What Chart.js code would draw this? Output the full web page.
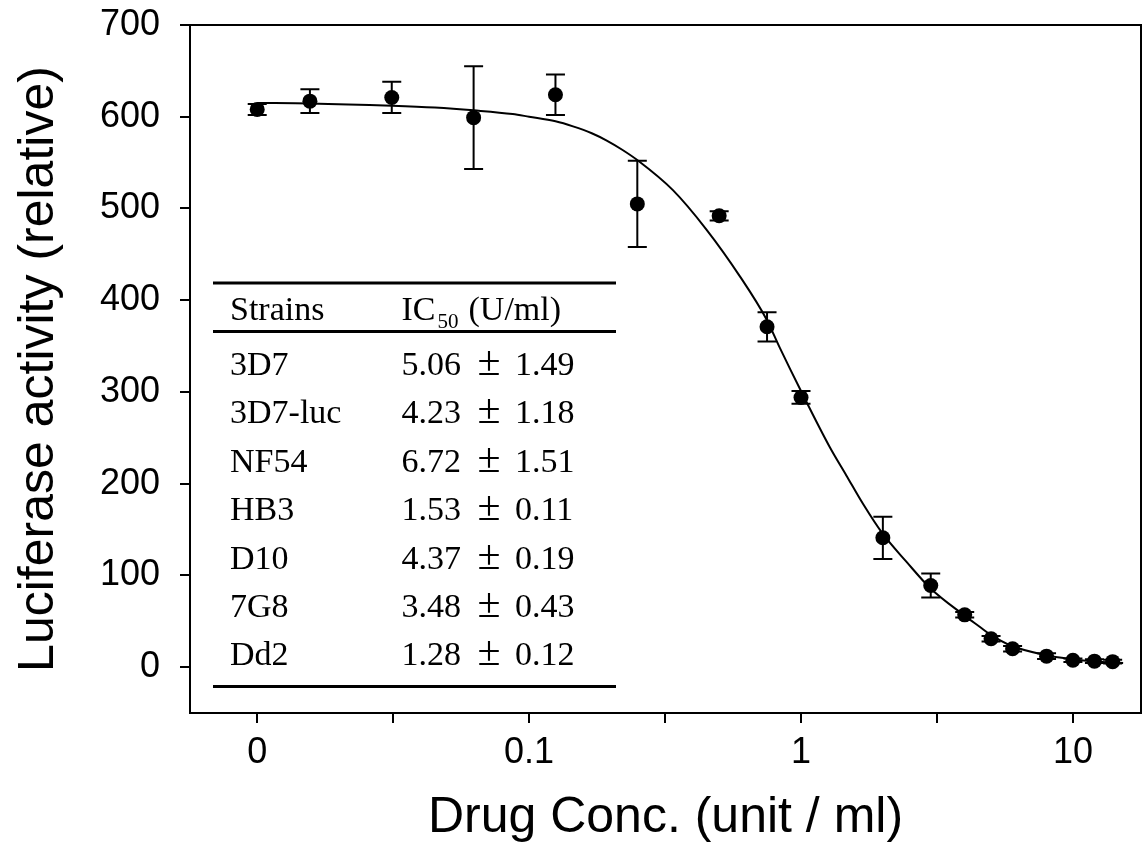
<!DOCTYPE html>
<html>
<head>
<meta charset="utf-8">
<script src="https://cdn.jsdelivr.net/npm/chart.js@4.4.1/dist/chart.umd.min.js"></script>
<style>
  html, body { margin: 0; padding: 0; background: #fff; }
  #wrap { width: 1142px; height: 846px; }
</style>
</head>
<body>
<div id="wrap"><canvas id="grafico"></canvas></div>
<script>
// drug concentration (unit/ml), 0 is drawn where the "0" label sits on the log axis
const conc = [0, 0.015625, 0.03125, 0.0625, 0.125, 0.25, 0.5, 0.75, 1, 2, 3, 4, 5, 6, 8, 10, 12, 14];
const activity = [608, 617, 621, 599, 624, 505, 492, 371, 294, 141, 89, 57, 31, 20, 12, 7.5, 6.5, 6];
const activityErr = [6, 13, 17, 56, 22, 47, 5, 16, 7, 23, 13, 3, 3, 3, 3, 2, 2, 2];

// fitted dose-response curve
const fitX = [0.01, 0.0156, 0.0313, 0.045, 0.0625, 0.087, 0.1, 0.125, 0.145, 0.17, 0.193, 0.22, 0.252, 0.338, 0.449,
              0.596, 0.747, 0.836, 1, 1.275, 1.468, 1.69, 1.99, 2.44, 2.99, 3.96, 4.54, 4.94, 5.97, 7.98, 9.95, 11.9, 15.3];
const fitY = [615, 614.5, 612, 610, 607, 603, 600, 595, 589.5, 582, 574, 564, 552, 520, 477,
              426, 379, 348, 301, 240, 209, 178, 146, 115, 86, 57, 44, 36, 23, 13, 8.7, 6.2, 4.4];

const zeroAt = 0.01;
const xMajorTicks = [0.01, 0.1, 1, 10];
const xTickLabels = ['0', '0.1', '1', '10'];
const xMinorTicks = [0.0316, 0.316, 3.16];
const yTicks = [0, 100, 200, 300, 400, 500, 600, 700];

// IC50 table
const strains = ['3D7', '3D7-luc', 'NF54', 'HB3', 'D10', '7G8', 'Dd2'];
const ic50 = ['5.06', '4.23', '6.72', '1.53', '4.37', '3.48', '1.28'];
const ic50Sd = ['1.49', '1.18', '1.51', '0.11', '0.19', '0.43', '0.12'];

Chart.defaults.font.family = "'Liberation Sans', Arial, sans-serif";
Chart.defaults.color = '#000';

const errorBars = {
    id: 'errorBars',
    beforeDatasetsDraw(chart) {
        const ctx = chart.ctx;
        const xs = chart.scales.x, ys = chart.scales.y;
        ctx.save();
        ctx.strokeStyle = '#000';
        ctx.lineWidth = 2;
        conc.forEach((c, i) => {
            const px = xs.getPixelForValue(c === 0 ? zeroAt : c);
            const top = ys.getPixelForValue(activity[i] + activityErr[i]);
            const bot = ys.getPixelForValue(activity[i] - activityErr[i]);
            ctx.beginPath();
            ctx.moveTo(px, top); ctx.lineTo(px, bot);
            ctx.moveTo(px - 9.5, top); ctx.lineTo(px + 9.5, top);
            ctx.moveTo(px - 9.5, bot); ctx.lineTo(px + 9.5, bot);
            ctx.stroke();
        });
        ctx.restore();
    }
};

const frame = {
    id: 'frame',
    afterDraw(chart) {
        const {ctx, chartArea: a} = chart;
        ctx.save();
        ctx.strokeStyle = '#000';
        ctx.lineWidth = 2;
        ctx.strokeRect(a.left, a.top, a.right - a.left, a.bottom - a.top);
        ctx.restore();
    }
};

const ic50Table = {
    id: 'ic50Table',
    afterDraw(chart) {
        const {ctx, chartArea: a} = chart;
        const l = a.left, t = a.top;
        const serif = "'Liberation Serif', 'Times New Roman', serif";
        ctx.save();
        ctx.fillStyle = '#000';
        ctx.strokeStyle = '#000';
        ctx.lineWidth = 3;
        [258, 306.5, 661.5].forEach(dy => {
            ctx.beginPath();
            ctx.moveTo(l + 23, t + dy);
            ctx.lineTo(l + 426, t + dy);
            ctx.stroke();
        });
        ctx.textBaseline = 'alphabetic';
        ctx.textAlign = 'left';
        ctx.font = '34px ' + serif;
        ctx.fillText('Strains', l + 40, t + 295);
        let x = l + 211.5;
        ctx.fillText('IC', x, t + 295);
        x += ctx.measureText('IC').width + 2;
        ctx.font = '21px ' + serif;
        ctx.fillText('50', x, t + 303);
        x += ctx.measureText('50').width + 10;
        ctx.font = '34px ' + serif;
        ctx.fillText('(U/ml)', x, t + 295);

        strains.forEach((s, i) => {
            const by = t + 350 + i * 48.4;
            ctx.font = '34px ' + serif;
            ctx.fillText(s, l + 40, by);
            ctx.fillText(ic50[i], l + 211.5, by);
            ctx.fillText(ic50Sd[i], l + 325, by);
            ctx.font = '42px ' + serif;
            ctx.textAlign = 'center';
            ctx.fillText('\u00B1', l + 299, by);
            ctx.textAlign = 'left';
        });
        ctx.restore();
    }
};

const ctx = document.getElementById('grafico').getContext('2d');
new Chart(ctx, {
    type: 'scatter',
    data: {
        datasets: [{
            data: conc.map((c, i) => ({x: c === 0 ? zeroAt : c, y: activity[i]})),
            backgroundColor: '#000',
            borderColor: '#000',
            pointRadius: 7.5,
            pointBorderWidth: 0,
            showLine: false
        }, {
            data: fitX.map((x, i) => ({x: x, y: fitY[i]})),
            borderColor: '#000',
            borderWidth: 2,
            pointRadius: 0,
            showLine: true,
            fill: false,
            cubicInterpolationMode: 'monotone'
        }]
    },
    options: {
        responsive: true,
        maintainAspectRatio: false,
        animation: false,
        layout: { autoPadding: false, padding: { top: 25, right: 1, left: 0, bottom: 0 } },
        plugins: {
            legend: { display: false },
            tooltip: { enabled: false }
        },
        scales: {
            x: {
                type: 'logarithmic',
                min: 0.00566,
                max: 17.8,
                afterBuildTicks: s => {
                    s.ticks = xMajorTicks.concat(xMinorTicks).sort((a, b) => a - b).map(v => ({value: v}));
                },
                afterFit: s => {
                    s.height = 133;
                    s.paddingLeft = 0;
                    s.paddingRight = 0;
                },
                ticks: {
                    autoSkip: false,
                    maxRotation: 0,
                    padding: 8,
                    font: { size: 36 },
                    callback: v => {
                        const k = xMajorTicks.indexOf(v);
                        return k >= 0 ? xTickLabels[k] : '';
                    }
                },
                grid: { drawOnChartArea: false, tickLength: 10, color: '#000', lineWidth: 2 },
                border: { color: '#000', width: 2 },
                title: {
                    display: true,
                    text: 'Drug Conc. (unit / ml)',
                    font: { size: 50, lineHeight: 1 },
                    padding: { top: 0, bottom: 3 }
                }
            },
            y: {
                min: -50,
                max: 700,
                afterBuildTicks: s => { s.ticks = yTicks.map(v => ({value: v})); },
                afterFit: s => {
                    s.width = 190;
                    s.paddingTop = 0;
                    s.paddingBottom = 0;
                },
                ticks: { padding: 20, font: { size: 36 } },
                grid: { drawOnChartArea: false, tickLength: 10, color: '#000', lineWidth: 2 },
                border: { color: '#000', width: 2 },
                title: {
                    display: true,
                    text: 'Luciferase activity (relative)',
                    font: { size: 50, lineHeight: 1 },
                    padding: { top: 14, bottom: 0 }
                }
            }
        }
    },
    plugins: [errorBars, frame, ic50Table]
});
</script>
</body>
</html>
